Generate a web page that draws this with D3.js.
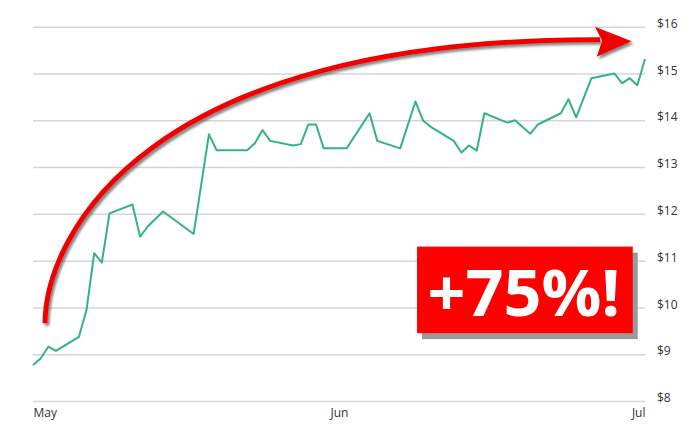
<!DOCTYPE html>
<html>
<head>
<meta charset="utf-8">
<script src="https://cdn.jsdelivr.net/npm/d3@7"></script>
<style>
  html, body { margin: 0; padding: 0; background: #fff; }
  svg { display: block; }
  text { font-family: "Open Sans", "Noto Sans", sans-serif; }
</style>
</head>
<body>
<svg id="chart" width="700" height="433"></svg>
<script>
// ---- data ----
const dayIndex = [0,1,2,3,6,7,8,9,10,13,14,15,17,21,23,24,28,29,30,31,34,35,36,37,38,41,44,45,48,50,51,52,55,56,57,58,59,62,63,65,66,69,70,71,73,76,77,78,79,80];
const price    = [8.77,8.91,9.16,9.07,9.37,9.95,11.16,10.96,12.01,12.20,11.51,11.73,12.05,11.57,13.70,13.36,13.36,13.51,13.79,13.56,13.46,13.49,13.91,13.91,13.40,13.40,14.15,13.56,13.40,14.40,13.99,13.86,13.56,13.31,13.46,13.35,14.15,13.95,14.00,13.71,13.91,14.15,14.45,14.06,14.90,15.00,14.79,14.90,14.75,15.31];
const xTickPos    = [0, 40, 80];
const xTickLabels = ["May", "Jun", "Jul"];
const yTicks      = [8, 9, 10, 11, 12, 13, 14, 15, 16];
const badgeText   = "+75%!";
// annotation arrow: cubic Bezier control points in data units (day index, price)
const arrowDays   = [1.57, 1.70, 14.64, 74.12];
const arrowVals   = [9.66, 11.55, 15.76, 15.72];
const headDays    = [73.46, 78.26, 73.69, 74.40];
const headVals    = [16.00, 15.69, 15.36, 15.70];

// ---- layout ----
const svg = d3.select("#chart");
const plotL = 33, plotR = 645, plotT = 26.7, plotB = 401;
const x = d3.scaleLinear().domain([0, 80]).range([plotL, plotR]);
const y = d3.scaleLinear().domain([8, 16]).range([plotB, plotT]);

const defs = svg.append("defs");
const f = defs.append("filter").attr("id", "shadow")
  .attr("x", "-20%").attr("y", "-20%").attr("width", "140%").attr("height", "140%");
f.append("feDropShadow").attr("dx", 2).attr("dy", 2.5).attr("stdDeviation", 0.8)
  .attr("flood-color", "#555").attr("flood-opacity", 0.7);

// gridlines
const grid = svg.append("g").attr("transform", `translate(${plotR},0)`)
  .call(d3.axisLeft(y).tickValues(yTicks).tickSize(plotR - plotL).tickFormat(""));
grid.select(".domain").remove();
grid.selectAll("line").attr("stroke", "#d6d6d6").attr("stroke-width", 1.5);

// y labels
const yAx = svg.append("g").attr("transform", `translate(${plotR + 12},0)`)
  .call(d3.axisRight(y).tickValues(yTicks).tickSize(0).tickPadding(0).tickFormat(d => "$" + d));
yAx.select(".domain").remove();
yAx.selectAll("text").attr("dy", "0.05em").attr("fill", "#333")
  .style("font-size", "12px").style("font-family", "'Open Sans', sans-serif");

// x labels
const xAx = svg.append("g").attr("transform", `translate(0,${plotB})`)
  .call(d3.axisBottom(x).tickValues(xTickPos).tickSize(0).tickPadding(7.5)
    .tickFormat((d, i) => xTickLabels[i]));
xAx.select(".domain").remove();
xAx.selectAll("text").attr("fill", "#333")
  .style("font-size", "12px").style("font-family", "'Open Sans', sans-serif")
  .attr("text-anchor", (d, i) => i === 0 ? "start" : (i === xTickPos.length - 1 ? "end" : "middle"));

// price line
const pts = dayIndex.map((d, i) => [d, price[i]]);
svg.append("path").datum(pts)
  .attr("fill", "none").attr("stroke", "#35b37e").attr("stroke-width", 2)
  .attr("stroke-linejoin", "round")
  .attr("d", d3.line().x(d => x(d[0])).y(d => y(d[1])));

// arrow annotation
const arrowG = svg.append("g").attr("filter", "url(#shadow)");
const c = arrowDays.map((d, i) => [x(d), y(arrowVals[i])]);
const p = d3.path();
p.moveTo(c[0][0], c[0][1]);
p.bezierCurveTo(c[1][0], c[1][1], c[2][0], c[2][1], c[3][0], c[3][1]);
arrowG.append("path")
  .attr("fill", "none").attr("stroke", "#f20000").attr("stroke-width", 5)
  .attr("d", p.toString());
const hPts = headDays.map((d, i) => [x(d), y(headVals[i])]);
arrowG.append("path")
  .attr("fill", "#f20000")
  .attr("d", "M" + hPts.map(q => q.join(",")).join("L") + "Z");

// badge
const bx0 = x(50.2), bx1 = x(78.4), by0 = y(11.3), by1 = y(9.45);
svg.append("rect").attr("x", bx0 + 5).attr("y", by0 + 6)
  .attr("width", bx1 - bx0).attr("height", by1 - by0).attr("fill", "#9a9a9a");
svg.append("rect").attr("x", bx0).attr("y", by0)
  .attr("width", bx1 - bx0).attr("height", by1 - by0).attr("fill", "#ff0000");
svg.append("text").attr("x", (bx0 + bx1) / 2 - 1).attr("y", by1 - 17)
  .attr("text-anchor", "middle").attr("fill", "#fff")
  .style("font-size", "65px").style("font-weight", "bold")
  .attr("textLength", 193).attr("lengthAdjust", "spacingAndGlyphs")
  .text(badgeText);
</script>
</body>
</html>
